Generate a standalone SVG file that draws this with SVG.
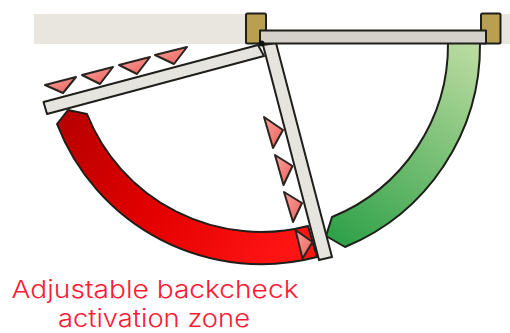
<svg xmlns="http://www.w3.org/2000/svg" width="510" height="333" viewBox="0 0 510 333">
  <style>
    .o { stroke: #1e1e1a; stroke-width: 2; stroke-linejoin: round; }
    .door { fill: #e6e4de; }
    .tri { fill: url(#tg); stroke: #2a2320; stroke-width: 2; stroke-linejoin: round; }
    .post { fill: #b8a050; }
    text { font-family: "Inter", "Liberation Sans", sans-serif; font-size: 24px; fill: #ff1a35; text-anchor: middle; font-weight: 300; }
  </style>
  <defs>
    <linearGradient id="rg" gradientUnits="userSpaceOnUse" x1="70" y1="110" x2="280" y2="260">
      <stop offset="0" stop-color="#b80000"/>
      <stop offset="0.5" stop-color="#e40000"/>
      <stop offset="1" stop-color="#ff1414"/>
    </linearGradient>
    <linearGradient id="gg" gradientUnits="userSpaceOnUse" x1="470" y1="50" x2="335" y2="240">
      <stop offset="0" stop-color="#b8da9e"/>
      <stop offset="1" stop-color="#2fa148"/>
    </linearGradient>
    <linearGradient id="tg" x1="0" y1="0" x2="1" y2="1">
      <stop offset="0" stop-color="#f9a59c"/>
      <stop offset="1" stop-color="#ea5f5a"/>
    </linearGradient>
  </defs>
  <g id="wall">
    <rect x="34" y="14" width="213" height="30" fill="#e8e6df"/>
    <rect x="500" y="14" width="10" height="30" fill="#e8e6df"/>
  </g>
  <g id="zone-red"><path class="o" fill="url(#rg)" d="M57,124 L68,110 L87,114 A187.5,187.5 0 0 0 308,226 L317,257 A219,219 0 0 1 57,124 Z"/></g>
  <g id="zone-green"><path class="o" fill="url(#gg)" d="M448,43 A186,186 0 0 1 332,217 L326,236 L345,247 A218,218 0 0 0 480,43 Z"/></g>
  <g id="post-left"><rect class="o post" x="246" y="13.500" width="20" height="30" rx="1.500"/></g>
  <g id="post-right"><rect class="o post" x="481" y="13.500" width="19.500" height="30" rx="1.500"/></g>
  <g id="door-open-left"><polygon class="o door" points="43.500,102 258,45 264,56 47,114"/></g>
  <g id="door-open-down"><polygon class="o door" points="263,45 276,43 332,257 319,260"/></g>
  <g id="door-closed"><rect class="o" fill="#d3d1c9" x="260" y="30.500" width="226" height="13"/></g>
  <g id="hinge"><circle cx="261.500" cy="43.500" r="3" fill="#111"/></g>
  <g id="triangles-left">
    <polygon class="tri" points="45,85 76,77 63,93"/>
    <polygon class="tri" points="82,75 113,67 100,84"/>
    <polygon class="tri" points="119,65 150,57 137,74"/>
    <polygon class="tri" points="155,55 187,47 174,64"/>
  </g>
  <g id="triangles-down">
    <polygon class="tri" points="264,117 283,130 273,148"/>
    <polygon class="tri" points="275,155 292.500,166 283.500,185"/>
    <polygon class="tri" points="284,192 302,203 293,222"/>
    <polygon class="tri" points="295.500,230 312.500,242 302.500,258.500"/>
  </g>
  <g id="label">
    <text x="155" y="298" textLength="287" lengthAdjust="spacingAndGlyphs">Adjustable backcheck</text>
    <text x="154" y="327" textLength="192" lengthAdjust="spacingAndGlyphs">activation zone</text>
  </g>
</svg>
